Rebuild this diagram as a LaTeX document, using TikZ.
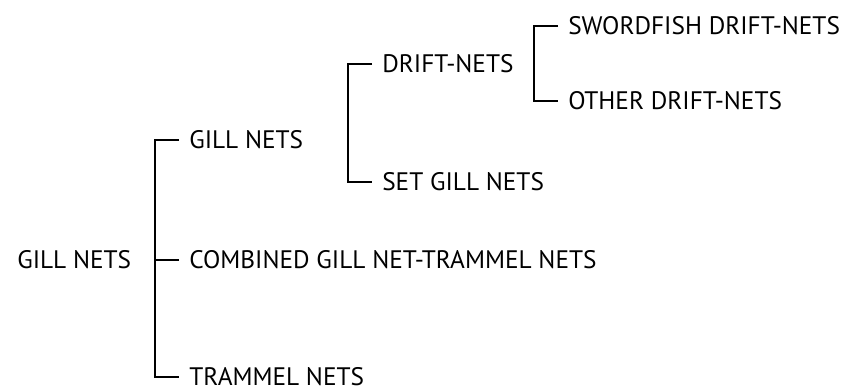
\documentclass[tikz,border=0pt]{standalone}
\usepackage{fontspec}
\setmainfont{PT Sans}
\tikzset{
	item/.style={anchor=west,inner xsep=0.25cm,inner ysep=0pt,font=\fontsize{18}{20}\selectfont},
	bracket/.style={line width=1.2pt}
}
\begin{document}
\begin{tikzpicture}[x=0.025cm,y=-0.025cm]
		\useasboundingbox (0,0) rectangle (857,389);
		\node[item,inner xsep=0pt] (root) at (17,260) {GILL NETS};
		\node[item] (gill) at (179,140) {GILL NETS};
		\node[item] (comb) at (179,260) {COMBINED GILL NET-TRAMMEL NETS};
		\node[item] (tram) at (179,377) {TRAMMEL NETS};
		\node[item] (drift) at (372,64) {DRIFT-NETS};
		\node[item] (set) at (372,182) {SET GILL NETS};
		\node[item] (sword) at (558,26) {SWORDFISH DRIFT-NETS};
		\node[item] (other) at (558,101) {OTHER DRIFT-NETS};
		\draw[bracket] (gill.west) -- ++(-24,0) |- (tram.west);
		\draw[bracket] (comb.west) -- ++(-24,0);
		\draw[bracket] (drift.west) -- ++(-24,0) |- (set.west);
		\draw[bracket] (sword.west) -- ++(-24,0) |- (other.west);
	\end{tikzpicture}
\end{document}
